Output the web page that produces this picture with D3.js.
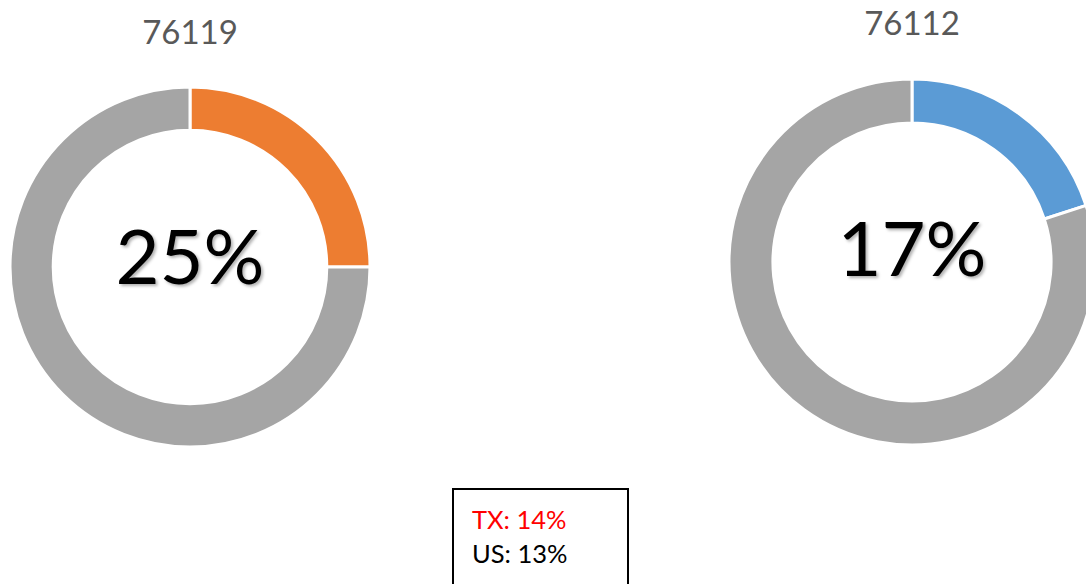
<!DOCTYPE html>
<html>
<head>
<meta charset="utf-8">
<script src="https://cdn.jsdelivr.net/npm/d3@7"></script>
<style>
  html, body { margin: 0; padding: 0; background: #fff; }
  svg { display: block; }
  text { font-family: Lato, "Open Sans", sans-serif; }
</style>
</head>
<body>
<svg id="chart" width="1086" height="584"></svg>
<script>
// data
var zipCodes = ['76119', '76112'];
var sliceShare = [0.25, 0.20];      // size of the coloured slice as drawn
var centerLabels = ['25%', '17%'];
var sliceColors = ['#ED7D31', '#5B9BD5'];
var restColor = '#A5A5A5';
var legendLabels = ['TX: 14%', 'US: 13%'];
var legendColors = ['#FF0000', '#000000'];

var svg = d3.select('#chart');

var defs = svg.append('defs');
var f = defs.append('filter').attr('id', 'shadow')
    .attr('x', '-20%').attr('y', '-20%').attr('width', '140%').attr('height', '140%');
f.append('feDropShadow').attr('dx', 2).attr('dy', 2).attr('stdDeviation', 1.5)
    .attr('flood-color', '#000').attr('flood-opacity', 0.3);

// layout of each donut
var donuts = [
    {cx: 190, cy: 267, r: 180, titleY: 44, labelY: 284},
    {cx: 912, cy: 262, r: 183, titleY: 35, labelY: 276}
];

var pie = d3.pie().sort(null).value(function (d) { return d; });

donuts.forEach(function (pos, i) {
    var g = svg.append('g').attr('transform', 'translate(' + pos.cx + ',' + pos.cy + ')');
    var arc = d3.arc().innerRadius(pos.r * 0.76).outerRadius(pos.r);
    var parts = [sliceShare[i], 1 - sliceShare[i]];

    g.selectAll('path')
        .data(pie(parts))
        .enter()
        .append('path')
        .attr('d', arc)
        .attr('fill', function (d, j) { return j === 0 ? sliceColors[i] : restColor; })
        .attr('stroke', '#fff')
        .attr('stroke-width', 3);

    svg.append('text')
        .attr('x', pos.cx)
        .attr('y', pos.titleY)
        .attr('text-anchor', 'middle')
        .attr('font-size', 33)
        .attr('fill', '#595959')
        .text(zipCodes[i]);

    svg.append('text')
        .attr('x', pos.cx)
        .attr('y', pos.labelY)
        .attr('text-anchor', 'middle')
        .attr('font-size', 76)
        .attr('fill', '#000')
        .attr('filter', 'url(#shadow)')
        .text(centerLabels[i]);
});

// legend box
svg.append('rect')
    .attr('x', 453).attr('y', 489)
    .attr('width', 175).attr('height', 110)
    .attr('fill', '#fff')
    .attr('stroke', '#000')
    .attr('stroke-width', 2);

svg.selectAll('.legend')
    .data(legendLabels)
    .enter()
    .append('text')
    .attr('class', 'legend')
    .attr('x', 472)
    .attr('y', function (d, i) { return 529 + i * 34; })
    .attr('font-size', 25.5)
    .attr('fill', function (d, i) { return legendColors[i]; })
    .text(function (d) { return d; });
</script>
</body>
</html>
